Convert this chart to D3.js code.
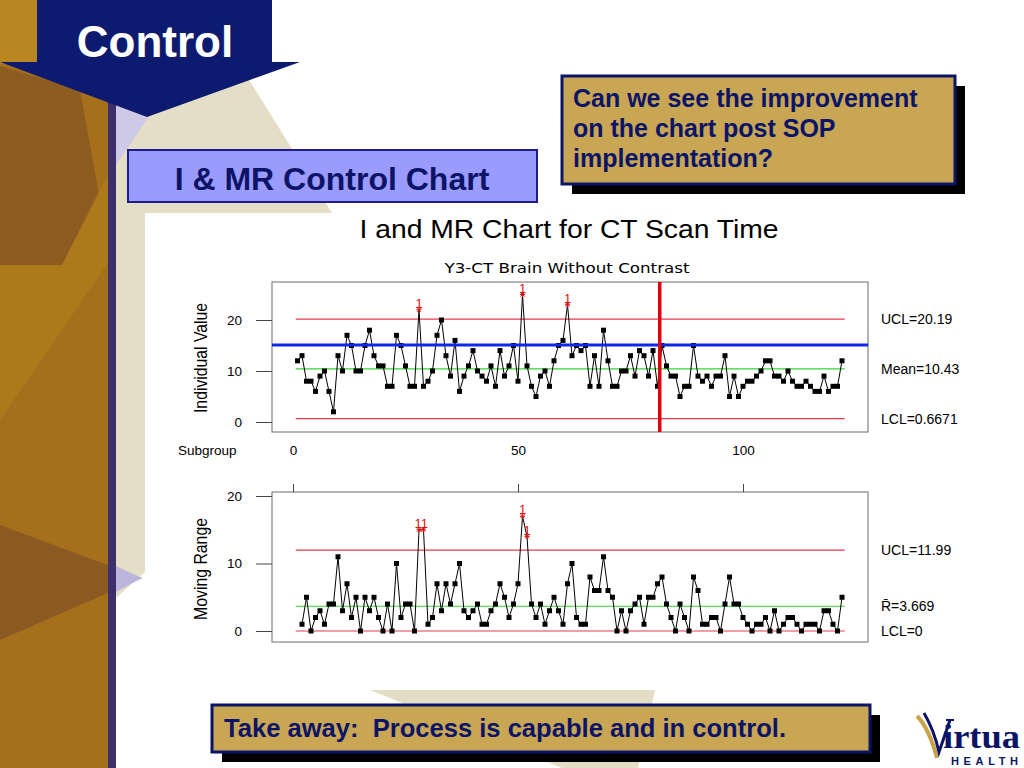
<!DOCTYPE html>
<html>
<head>
<meta charset="utf-8">
<script src="https://cdn.jsdelivr.net/npm/d3@7"></script>
<style>
  html, body { margin: 0; padding: 0; background: #fff; }
  svg { display: block; }
</style>
</head>
<body>
<svg id="slide" width="1024" height="768"></svg>
<script>
// ---- data ----
const subgroupTicks = [0, 50, 100];
const valueTicks = [0, 10, 20];

// individual values, subgroups 1..122
const individual = [
  12, 13, 8, 8, 6, 9, 10, 6, 2, 13,
  10, 17, 15, 10, 10, 15, 18, 13, 11, 11,
  7, 7, 17, 15, 11, 7, 7, 22, 7, 8,
  10, 17, 20, 13, 9, 16, 6, 9, 11, 14,
  10, 9, 8, 11, 7, 14, 9, 11, 15, 8,
  25, 11, 7, 5, 9, 10, 7, 12, 15, 16,
  23, 13, 15, 14, 15, 7, 13, 7, 18, 12,
  7, 7, 10, 10, 13, 9, 14, 13, 9, 14,
  7, 15, 11, 9, 9, 5, 7, 7, 15, 9,
  8, 9, 7, 9, 9, 13, 5, 9, 5, 7,
  8, 8, 9, 10, 12, 12, 9, 9, 8, 10,
  8, 7, 7, 8, 7, 6, 6, 9, 6, 7,
  7, 12,
];

// moving ranges, subgroups 2..122
const movingRange = [
  1, 5, 0, 2, 3, 1, 4, 4, 11,
  3, 7, 2, 5, 0, 5, 3, 5, 2, 0,
  4, 0, 10, 2, 4, 4, 0, 15, 15, 1,
  2, 7, 3, 7, 4, 7, 10, 3, 2, 3,
  4, 1, 1, 3, 4, 7, 5, 2, 4, 7,
  17, 14, 4, 2, 4, 1, 3, 5, 3, 1,
  7, 10, 2, 1, 1, 8, 6, 6, 11, 6,
  5, 0, 3, 0, 3, 4, 5, 1, 5, 5,
  7, 8, 4, 2, 0, 4, 2, 0, 8, 6,
  1, 1, 2, 2, 0, 4, 8, 4, 4, 2,
  1, 0, 1, 1, 2, 0, 3, 0, 1, 2,
  2, 1, 0, 1, 1, 1, 0, 3, 3, 1,
  0, 5,
];

const iLimitValues = [20.19, 10.43, 0.6671];
const iLimitLabels = ['UCL=20.19', 'Mean=10.43', 'LCL=0.6671'];
const mrLimitValues = [11.99, 3.669, 0];
const mrLimitLabels = ['UCL=11.99', 'R\u0304=3.669', 'LCL=0'];

const goalValue = 15.1;      // blue reference line
const sopSubgroup = 81.5;    // red vertical line: SOP implementation

// ---- layout ----
const NAVY = '#0c1a70';
const INK = '#0b1466';
const PLOT_L = 272;
const PLOT_R = 868;
const I_TOP = 282;
const I_BOT = 432;
const MR_TOP = 492;
const MR_BOT = 642;
const LIMIT_SPAN = [0.6, 122.6];

const svg = d3.select('#slide');

// ---- slide background ----
const deco = svg.append('g');
deco.append('rect').attr('width', 1024).attr('height', 768).attr('fill', '#fff');

const shapes = [
  // left gold strip
  { pts: [[0, 0], [110, 0], [110, 768], [0, 768]], fill: '#a56f1c' },
  { pts: [[0, 0], [40, 0], [40, 64], [0, 64]], fill: '#b98620' },
  { pts: [[0, 66], [80, 90], [100, 200], [62, 265], [0, 265]], fill: '#8c5c20' },
  { pts: [[0, 265], [62, 265], [110, 170], [110, 260], [0, 420]], fill: '#ae791b' },
  { pts: [[0, 525], [142, 578], [0, 640]], fill: '#8a5a22' },
  // beige wedges
  { pts: [[116, 62], [238, 62], [332, 213], [145, 213], [145, 572], [116, 598]], fill: '#e5dec6' },
  { pts: [[370, 690], [655, 690], [638, 768], [562, 768]], fill: '#e5dec6' },
  // lavender tints
  { pts: [[116, 100], [152, 112], [116, 165]], fill: '#cdc9e6' },
  { pts: [[116, 566], [142, 578], [116, 592]], fill: '#bdb6dc' },
];
deco
  .selectAll('polygon')
  .data(shapes)
  .join('polygon')
  .attr('points', (d) => d.pts.map((p) => p.join(',')).join(' '))
  .attr('fill', (d) => d.fill);

// chart picture area
deco.append('rect').attr('x', 145).attr('y', 213).attr('width', 879).attr('height', 477).attr('fill', '#fff');

// navy vertical rule
deco.append('rect').attr('x', 108).attr('y', 95).attr('width', 8).attr('height', 673).attr('fill', '#3d2f6c');

// "Control" banner
deco.append('rect').attr('x', 37).attr('y', 0).attr('width', 235).attr('height', 63).attr('fill', NAVY);
deco.append('polygon').attr('points', '0,62 300,62 147,117').attr('fill', NAVY);
deco
  .append('text')
  .attr('x', 155)
  .attr('y', 57)
  .attr('text-anchor', 'middle')
  .attr('font-family', 'Liberation Sans, Arial, sans-serif')
  .attr('font-weight', 700)
  .attr('font-size', 44)
  .attr('fill', '#fff')
  .text('Control');

// "I & MR Control Chart" box
deco
  .append('rect')
  .attr('x', 128)
  .attr('y', 150)
  .attr('width', 409)
  .attr('height', 52)
  .attr('fill', '#9b9bfd')
  .attr('stroke', '#1c1c8c')
  .attr('stroke-width', 2);
deco
  .append('text')
  .attr('x', 332)
  .attr('y', 190)
  .attr('text-anchor', 'middle')
  .attr('font-family', 'Liberation Sans, Arial, sans-serif')
  .attr('font-weight', 700)
  .attr('font-size', 32)
  .attr('fill', INK)
  .text('I & MR Control Chart');

// callout boxes with drop shadow
function callout(x, y, w, h, lines, opts) {
  deco.append('rect').attr('x', x + 10).attr('y', y + 10).attr('width', w).attr('height', h).attr('fill', '#000');
  deco
    .append('rect')
    .attr('x', x)
    .attr('y', y)
    .attr('width', w)
    .attr('height', h)
    .attr('fill', '#c9a653')
    .attr('stroke', INK)
    .attr('stroke-width', 3);
  lines.forEach((t, i) => {
    const txt = deco
      .append('text')
      .attr('x', opts.tx)
      .attr('y', opts.ty + i * opts.lh)
      .attr('font-family', 'Liberation Sans, Arial, sans-serif')
      .attr('font-weight', 700)
      .attr('font-size', opts.fs)
      .attr('fill', INK)
      .style('white-space', 'pre')
      .text(t);
    if (opts.len) txt.attr('textLength', opts.len).attr('lengthAdjust', 'spacingAndGlyphs');
  });
}
callout(562, 76, 393, 108, ['Can we see the improvement', 'on the chart post SOP', 'implementation?'], {
  tx: 573, ty: 107, lh: 30, fs: 25,
});
callout(212, 705, 658, 47, ['Take away:  Process is capable and in control.'], {
  tx: 224, ty: 737, lh: 0, fs: 25, len: 562,
});

// Virtua Health logo
const logo = deco.append('g');
logo.append('path').attr('d', 'M917,716 Q929,728 937,758').attr('fill', 'none').attr('stroke', '#c9a24a').attr('stroke-width', 4);
logo.append('path').attr('d', 'M924,713 Q934,730 939,752 L950,720').attr('fill', 'none').attr('stroke', INK).attr('stroke-width', 3);
logo.append('path').attr('d', 'M946,720 L954,720').attr('stroke', INK).attr('stroke-width', 2);
logo
  .append('text')
  .attr('x', 943)
  .attr('y', 748)
  .attr('font-family', 'Liberation Serif, Times New Roman, serif')
  .attr('font-weight', 700)
  .attr('font-size', 34)
  .attr('fill', INK)
  .attr('textLength', 77)
  .attr('lengthAdjust', 'spacingAndGlyphs')
  .text('irtua');
logo
  .append('text')
  .attr('x', 951)
  .attr('y', 765)
  .attr('font-family', 'Liberation Sans, Arial, sans-serif')
  .attr('font-weight', 700)
  .attr('font-size', 11)
  .attr('fill', INK)
  .attr('textLength', 67)
  .text('HEALTH');

// ---- chart ----
const chart = svg.append('g').attr('font-family', 'Liberation Sans, Arial, sans-serif');

chart
  .append('text')
  .attr('x', 569)
  .attr('y', 238)
  .attr('text-anchor', 'middle')
  .attr('font-size', 25)
  .attr('fill', '#000')
  .attr('textLength', 419)
  .attr('lengthAdjust', 'spacingAndGlyphs')
  .text('I and MR Chart for CT Scan Time');

chart
  .append('text')
  .attr('x', 567)
  .attr('y', 273)
  .attr('text-anchor', 'middle')
  .attr('font-family', 'DejaVu Sans Condensed, DejaVu Sans, sans-serif')
  .attr('font-size', 14)
  .attr('fill', '#000')
  .attr('textLength', 245)
  .attr('lengthAdjust', 'spacingAndGlyphs')
  .text('Y3-CT Brain Without Contrast');

const x = d3.scaleLinear().domain([0, 100]).range([293, 743]);
const yI = d3.scaleLinear().domain([0, 20]).range([422, 320]);
const yMR = d3.scaleLinear().domain([0, 20]).range([631, 496]);

const iSeries = individual.map((v, i) => ({ s: i + 1, v }));
const mrSeries = movingRange.map((v, i) => ({ s: i + 2, v }));

// neighbouring out-of-control points at the same height share one "11" label
function flagRuns(points) {
  const runs = [];
  points.forEach((p) => {
    const last = runs[runs.length - 1];
    const prev = last && last[last.length - 1];
    if (prev && p.s - prev.s === 1 && p.v === prev.v) last.push(p);
    else runs.push([p]);
  });
  return runs;
}

function drawPanel(cfg) {
  const g = chart.append('g');
  const y = cfg.y;

  g.append('rect')
    .attr('x', PLOT_L)
    .attr('y', cfg.top)
    .attr('width', PLOT_R - PLOT_L)
    .attr('height', cfg.bot - cfg.top)
    .attr('fill', 'none')
    .attr('stroke', '#6b6b6b')
    .attr('stroke-width', 1);

  // y axis
  const ax = g
    .append('g')
    .attr('transform', `translate(${PLOT_L},0)`)
    .call(d3.axisLeft(y).tickValues(valueTicks).tickSize(16).tickPadding(14));
  ax.select('.domain').remove();
  ax.selectAll('line').attr('stroke', '#444');
  ax.selectAll('text').attr('font-size', 13.5).attr('font-family', 'Liberation Sans, Arial, sans-serif').attr('fill', '#000');

  g.append('text')
    .attr('transform', `translate(207,${cfg.titleY}) rotate(-90)`)
    .attr('text-anchor', 'middle')
    .attr('font-family', 'Liberation Sans Narrow, Liberation Sans, Arial, sans-serif')
    .attr('font-size', 18)
    .attr('fill', '#000')
    .attr('textLength', cfg.titleLen)
    .attr('lengthAdjust', 'spacingAndGlyphs')
    .text(cfg.title);

  // control limits
  g.selectAll('line.limit')
    .data(cfg.limits)
    .join('line')
    .attr('class', 'limit')
    .attr('x1', x(LIMIT_SPAN[0]))
    .attr('x2', x(LIMIT_SPAN[1]))
    .attr('y1', (d) => y(d))
    .attr('y2', (d) => y(d))
    .attr('stroke', (d, i) => (i === 1 ? '#37d437' : '#e83a4c'))
    .attr('stroke-width', 1.2);

  g.selectAll('text.limit')
    .data(cfg.limits)
    .join('text')
    .attr('class', 'limit')
    .attr('x', 881)
    .attr('y', (d) => y(d) + 5)
    .attr('font-size', 14)
    .attr('fill', '#000')
    .text((d, i) => cfg.labels[i]);

  // series
  const line = d3.line().x((d) => x(d.s)).y((d) => y(d.v));
  g.append('path')
    .datum(cfg.series)
    .attr('d', line)
    .attr('fill', 'none')
    .attr('stroke', '#000')
    .attr('stroke-width', 1);

  const ucl = cfg.limits[0];
  const normal = cfg.series.filter((d) => d.v <= ucl);
  const flagged = cfg.series.filter((d) => d.v > ucl);

  g.selectAll('rect.pt')
    .data(normal)
    .join('rect')
    .attr('class', 'pt')
    .attr('x', (d) => x(d.s) - 2.5)
    .attr('y', (d) => y(d.v) - 2.5)
    .attr('width', 5)
    .attr('height', 5)
    .attr('fill', '#000');

  if (cfg.after) cfg.after(g);

  g.selectAll('path.flag')
    .data(flagged)
    .join('path')
    .attr('class', 'flag')
    .attr('transform', (d) => `translate(${x(d.s)},${y(d.v)})`)
    .attr('d', 'M-2.5,0H2.5M0,-2.5V2.5M-2,-2L2,2M-2,2L2,-2')
    .attr('stroke', '#e01010')
    .attr('stroke-width', 1);

  g.selectAll('text.flag')
    .data(flagRuns(flagged))
    .join('text')
    .attr('class', 'flag')
    .attr('x', (r) => d3.mean(r, (d) => x(d.s)))
    .attr('y', (r) => d3.min(r, (d) => y(d.v)) - 2)
    .attr('text-anchor', 'middle')
    .attr('font-size', 13)
    .attr('fill', '#e01010')
    .text((r) => '1'.repeat(r.length));
}

drawPanel({
  y: yI,
  top: I_TOP,
  bot: I_BOT,
  series: iSeries,
  limits: iLimitValues,
  labels: iLimitLabels,
  title: 'Individual Value',
  titleY: 358,
  titleLen: 110,
  after: (g) => {
    g.append('line')
      .attr('x1', PLOT_L)
      .attr('x2', PLOT_R)
      .attr('y1', yI(goalValue))
      .attr('y2', yI(goalValue))
      .attr('stroke', '#1028e6')
      .attr('stroke-width', 3);
    g.append('line')
      .attr('x1', x(sopSubgroup))
      .attr('x2', x(sopSubgroup))
      .attr('y1', I_TOP)
      .attr('y2', I_BOT)
      .attr('stroke', '#e00010')
      .attr('stroke-width', 3.5);
  },
});

drawPanel({
  y: yMR,
  top: MR_TOP,
  bot: MR_BOT,
  series: mrSeries,
  limits: mrLimitValues,
  labels: mrLimitLabels,
  title: 'Moving Range',
  titleY: 569,
  titleLen: 102,
});

// subgroup axis (labels under the I chart, ticks above the MR chart)
const xb = chart
  .append('g')
  .attr('transform', `translate(0,${I_BOT})`)
  .call(d3.axisBottom(x).tickValues(subgroupTicks).tickSize(0).tickPadding(13));
xb.select('.domain').remove();
xb.selectAll('text').attr('font-size', 13.5).attr('font-family', 'Liberation Sans, Arial, sans-serif').attr('fill', '#000');

const xt = chart
  .append('g')
  .attr('transform', `translate(0,${MR_TOP})`)
  .call(d3.axisTop(x).tickValues(subgroupTicks).tickSize(8).tickFormat(''));
xt.select('.domain').remove();
xt.selectAll('line').attr('stroke', '#444');

chart
  .append('text')
  .attr('x', 178)
  .attr('y', 455)
  .attr('font-size', 13.5)
  .attr('fill', '#000')
  .text('Subgroup');
</script>
</body>
</html>
